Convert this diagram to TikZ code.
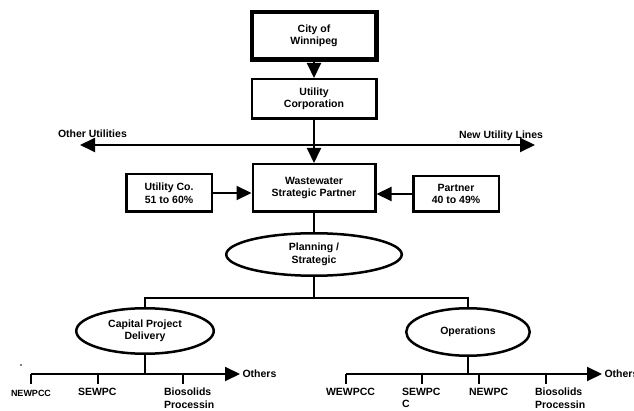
\documentclass[tikz,border=0pt]{standalone}
\usepackage{fontspec}
\setmainfont{Liberation Sans}
\usetikzlibrary{arrows.meta,shapes.geometric}
\tikzset{
  orgbox/.style={draw,line width=2.5pt,align=center,inner sep=0pt},
  orgoval/.style={draw,ellipse,line width=2.5pt,align=center,inner sep=0pt},
  plant/.style={anchor=north west,align=left,inner sep=0pt},
}
\begin{document}
\begin{tikzpicture}[x=1pt,y=-1pt,>={Triangle[length=15pt,width=14pt]},line width=2pt,
  font=\bfseries\fontsize{10.5}{12.5}\selectfont]
	\useasboundingbox (0,0) rectangle (634,411);
	% top of the chart
	\node[orgbox,line width=4.5pt,minimum width=124.5pt,minimum height=47.5pt] (city) at (314,36) {City of\\Winnipeg};
	\node[orgbox,minimum width=124.5pt,minimum height=39.5pt] (corp) at (314,99) {Utility\\Corporation};
	\node[orgbox,minimum width=122.5pt,minimum height=47.5pt] (wsp) at (314,188) {Wastewater\\Strategic Partner};
	\node[orgbox,minimum width=85.5pt,minimum height=37.5pt] (uco) at (169,193) {Utility Co.\\51 to 60\%};
	\node[orgbox,minimum width=85.5pt,minimum height=35.5pt] (ptn) at (456,194) {Partner\\40 to 49\%};
	\draw[->] (city) -- (corp);
	\draw[->] (corp) -- (wsp);
	\draw[->] (uco.east) -- (uco.east -| wsp.west);
	\draw[->] (ptn.west) -- (ptn.west -| wsp.east);
	% utility lines
	\coordinate (ou) at (80,145);
	\coordinate (nu) at (535,145);
	\draw[<->] (ou) -- (nu);
	\node[anchor=base west,inner sep=0pt] (oul) at (57,138) {Other Utilities};
	\node[anchor=base west,inner sep=0pt] (nul) at (458,139) {New Utility Lines};
	% planning and the two branches
	\node[orgoval,minimum width=175.5pt,minimum height=42.5pt] (plan) at (314,254.5) {Planning /\\Strategic};
	\node[orgoval,minimum width=137.5pt,minimum height=45.5pt] (cap) at (145,331) {Capital Project\\Delivery};
	\node[orgoval,minimum width=123.5pt,minimum height=47.5pt] (ops) at (468,332) {Operations};
	\draw (wsp) -- (plan);
	\coordinate (bus) at (314,298);
	\draw (plan) -- (bus);
	\draw (cap.north) |- (bus) -| (ops.north);
	% capital project plants
	\coordinate (cb) at (145,374);
	\coordinate (cs) at (31,374);
	\coordinate (ce) at (240,374);
	\draw (cap) -- (cb);
	\draw[->] (cs) -- (ce);
	\node[anchor=west,inner sep=1.5pt] (co) at (ce) {Others};
	\foreach \x in {31,98,183}{
		\draw (\x,374) -- (\x,384);
	}
	\node[plant,font=\bfseries\fontsize{9}{11}\selectfont] (c1) at (10,389) {NEWPCC};
	\node[plant] (c2) at (77,387) {SEWPC};
	\node[plant] (c3) at (163,387) {Biosolids\\Processin};
	\fill (21,365) circle (0.8pt);
	% operations plants
	\coordinate (ob) at (468,374);
	\coordinate (os) at (346,374);
	\coordinate (oe) at (602,374);
	\draw (ops) -- (ob);
	\draw[->] (os) -- (oe);
	\node[anchor=west,inner sep=1.5pt] (oo) at (oe) {Others};
	\foreach \x in {346,422,479,546}{
		\draw (\x,374) -- (\x,384);
	}
	\node[plant] (o1) at (325,387) {WEWPCC};
	\node[plant] (o2) at (401,387) {SEWPC\\C};
	\node[plant] (o3) at (468,387) {NEWPC};
	\node[plant] (o4) at (534,387) {Biosolids\\Processin};
\end{tikzpicture}
\end{document}
